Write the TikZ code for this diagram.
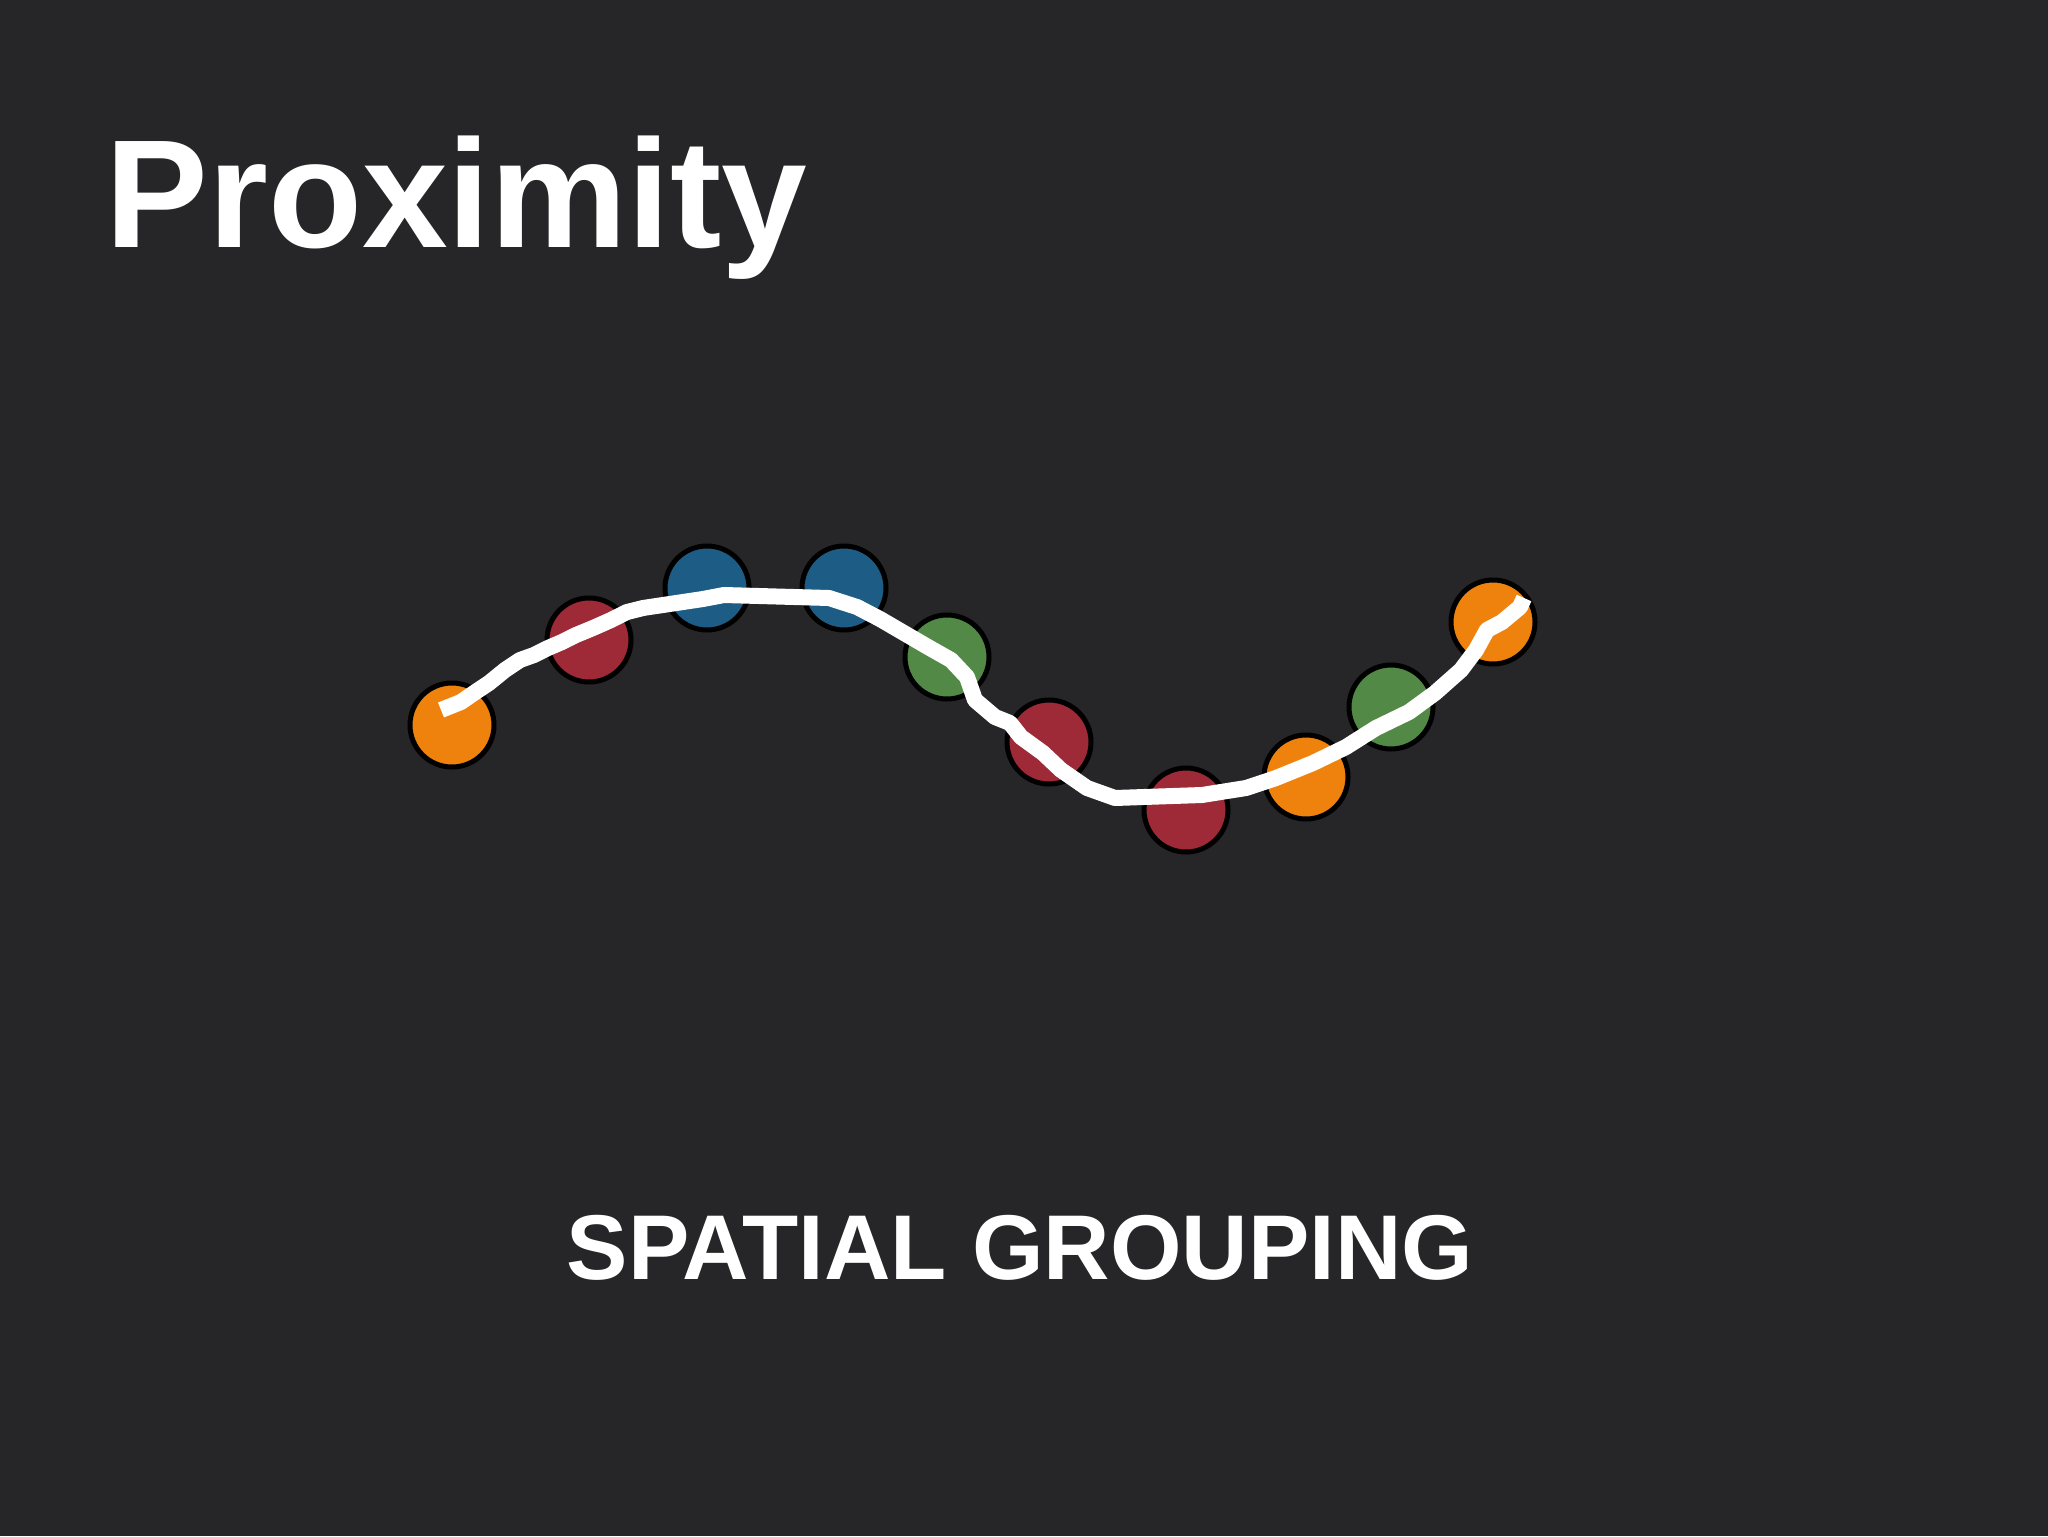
\documentclass[tikz,border=0pt]{standalone}
\usepackage{fontspec}
\setmainfont{Liberation Sans}
\definecolor{bg}{HTML}{262628}
\definecolor{dotorange}{HTML}{EF820D}
\definecolor{dotred}{HTML}{9E2937}
\definecolor{dotblue}{HTML}{1C5C85}
\definecolor{dotgreen}{HTML}{538946}
\tikzset{
  dot/.style={circle,draw=black,line width=2.5pt,minimum size=42pt,inner sep=0pt},
  wire/.style={draw=white,line width=8pt,line join=round},
  title/.style={text=white,font=\fontsize{77}{82}\selectfont\bfseries,inner sep=0pt,anchor=base west},
  subtitle/.style={text=white,font=\fontsize{46}{50}\selectfont\bfseries,inner sep=0pt,anchor=base}
}
\begin{document}
\begin{tikzpicture}[x=0.5pt,y=-0.5pt]
\fill[bg] (0,0) rectangle (2048,1536);
\useasboundingbox (0,0) rectangle (2048,1536);
\node[title] (ttl) at (105,247) {Proximity};
\node[subtitle] (sub) at (1020,1279) {SPATIAL GROUPING};
\node[dot,fill=dotorange] (o1) at (452,725) {};
\node[dot,fill=dotred]    (r1) at (589,640) {};
\node[dot,fill=dotblue]   (b1) at (707,588) {};
\node[dot,fill=dotblue]   (b2) at (844,588) {};
\node[dot,fill=dotgreen]  (g1) at (947,657) {};
\node[dot,fill=dotred]    (r2) at (1049,742) {};
\node[dot,fill=dotred]    (r3) at (1186,810) {};
\node[dot,fill=dotorange] (o2) at (1306,777) {};
\node[dot,fill=dotgreen]  (g2) at (1391,707) {};
\node[dot,fill=dotorange] (o3) at (1493,622) {};
\coordinate (wstart) at (441,710);
\coordinate (wend) at (1524,598);
\draw[wire] (wstart) -- (461,702) -- (474,693) -- (489,683) -- (505,670) -- (520,660) -- (534,655) -- (548,648) -- (562,642) -- (576,635) -- (593,628) -- (611,620) -- (627,612) -- (643,608) -- (663,605) -- (683,602) -- (703,599) -- (724,595) -- (829,598) -- (857,607) -- (880,619) -- (904,633) -- (928,647) -- (951,660) -- (967,677) -- (975,700) -- (995,717) -- (1010,723) -- (1021,737) -- (1043,753) -- (1061,770) -- (1087,788) -- (1115,798) -- (1202,795) -- (1246,788) -- (1276,778) -- (1313,763) -- (1346,747) -- (1376,728) -- (1409,712) -- (1435,693) -- (1461,670) -- (1476,650) -- (1487,630) -- (1502,622) -- (1520,607) -- (wend);
\end{tikzpicture}
\end{document}
